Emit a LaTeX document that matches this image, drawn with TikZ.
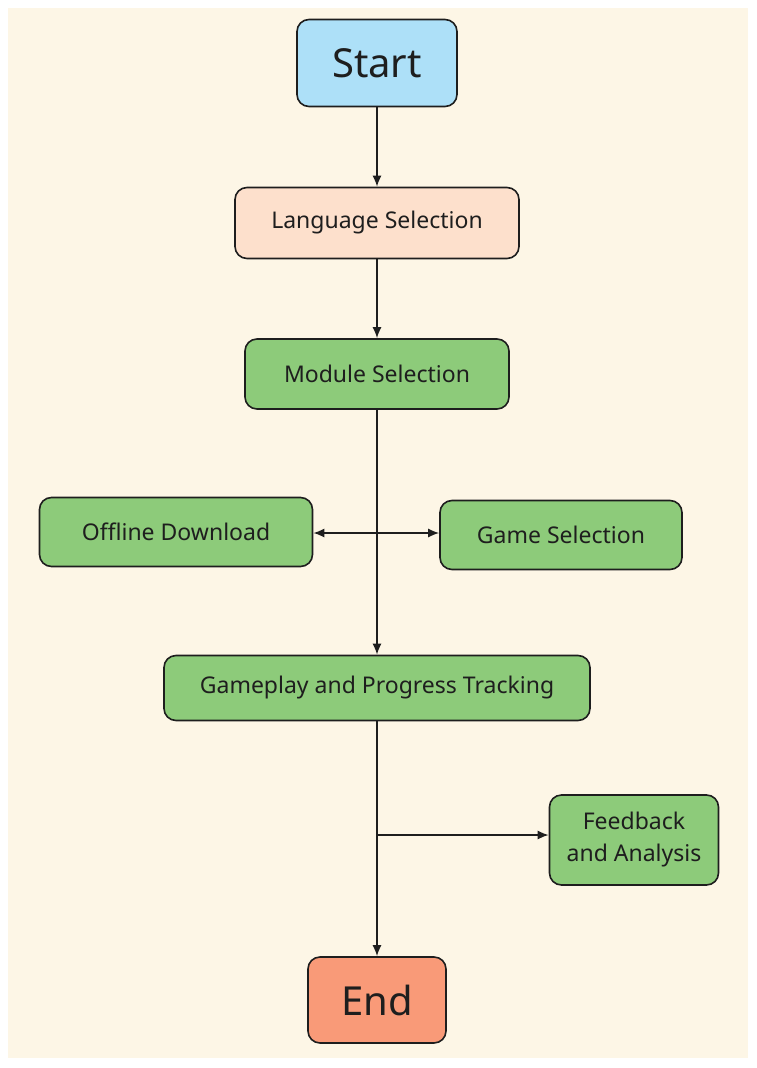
\documentclass[tikz,border=0pt]{standalone}
\usepackage{fontspec}
\setmainfont{Noto Sans}
\usetikzlibrary{arrows.meta}
\definecolor{bg}{HTML}{FDF6E6}
\definecolor{cblue}{HTML}{ADE0F8}
\definecolor{cpeach}{HTML}{FDE0CC}
\definecolor{cgreen}{HTML}{8DCB7A}
\definecolor{cred}{HTML}{F99A78}
\definecolor{ln}{HTML}{1E1E1E}
\begin{document}
\begin{tikzpicture}[x=1pt,y=-1pt,
  box/.style={draw=ln,line width=1.6pt,rounded corners=12pt,inner sep=0pt,align=center,
    font=\fontsize{23}{27}\selectfont,text=ln},
  arr/.style={draw=ln,line width=1.6pt,-{Latex[length=11pt,width=9pt]}}]
\useasboundingbox (0,0) rectangle (756,1068);
\fill[white] (0,0) rectangle (756,1068);
\fill[bg] (8,8) rectangle (748,1058);
\node[box,fill=cblue,minimum width=160pt,minimum height=87pt,font=\fontsize{40}{44}\selectfont] (start) at (377,63) {Start};
\node[box,fill=cpeach,minimum width=284pt,minimum height=71pt] (lang) at (377,223) {Language Selection};
\node[box,fill=cgreen,minimum width=264pt,minimum height=70pt] (mod) at (377,374) {Module Selection};
\node[box,fill=cgreen,minimum width=273pt,minimum height=69pt] (off) at (176,532) {Offline Download};
\node[box,fill=cgreen,minimum width=242pt,minimum height=69pt] (game) at (561,535) {Game Selection};
\node[box,fill=cgreen,minimum width=426pt,minimum height=65pt] (play) at (377,688) {Gameplay and Progress Tracking};
\node[box,fill=cgreen,minimum width=169pt,minimum height=90pt,font=\fontsize{23}{32}\selectfont] (fb) at (634,840) {Feedback\\and Analysis};
\node[box,fill=cred,minimum width=138pt,minimum height=86pt,font=\fontsize{40}{44}\selectfont] (end) at (377,1000) {End};
\coordinate (j1) at (377,533);
\coordinate (j2) at (377,835);
\draw[arr] (start) -- (lang);
\draw[arr] (lang) -- (mod);
\draw[arr] (mod) -- (play);
\draw[draw=ln,line width=1.6pt,{Latex[length=11pt,width=9pt]}-{Latex[length=11pt,width=9pt]}] (off.east |- j1) -- (game.west |- j1);
\draw[arr] (play) -- (end);
\draw[arr] (j2) -- (fb.west |- j2);
\end{tikzpicture}
\end{document}
